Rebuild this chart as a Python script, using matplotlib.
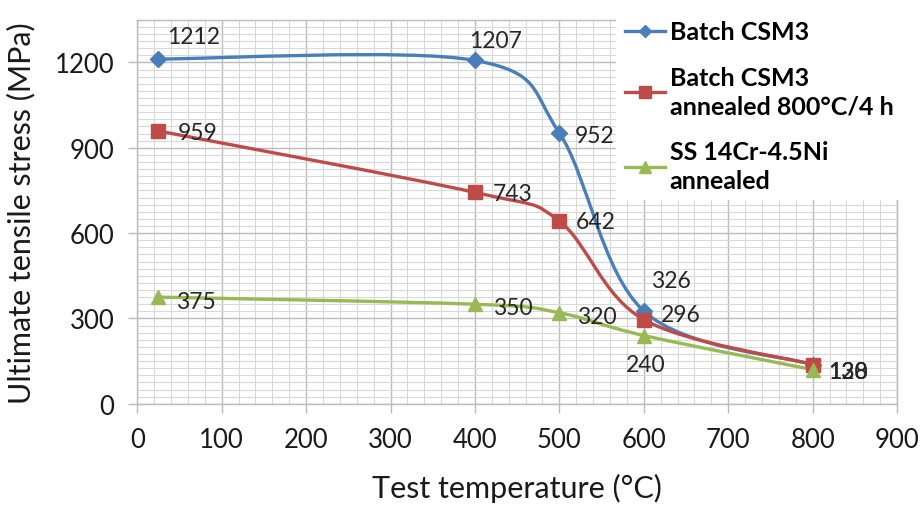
import matplotlib
matplotlib.use("Agg")
import matplotlib.pyplot as plt
from matplotlib.path import Path
from matplotlib.patches import PathPatch
from matplotlib.ticker import MultipleLocator
import numpy as np

# datos
temp = [25, 400, 500, 600, 800]
csm3 = [1212, 1207, 952, 326, 138]
csm3_ann = [959, 743, 642, 296, 138]
ss_ann = [375, 350, 320, 240, 120]
labels = ["Batch CSM3", "Batch CSM3\nannealed 800°C/4 h", "SS 14Cr-4.5Ni\nannealed"]

colors = ["#4A7EBB", "#BE4B48", "#98B954"]
markers = ["D", "s", "^"]
msizes = [8, 10, 10]

FONT = ["Lato", "DejaVu Sans"]
plt.rcParams["font.family"] = FONT


def smooth_path(x, y):
    """Curva suavizada tipo Excel (Bezier cúbica, Catmull-Rom)."""
    pts = np.column_stack([x, y]).astype(float)
    n = len(pts)
    verts = [pts[0]]
    codes = [Path.MOVETO]
    for i in range(n - 1):
        p0 = pts[i - 1] if i > 0 else pts[i]
        p1, p2 = pts[i], pts[i + 1]
        p3 = pts[i + 2] if i + 2 < n else pts[i + 1]
        c1 = p1 + (p2 - p0) / 6
        c2 = p2 - (p3 - p1) / 6
        verts += [c1, c2, p2]
        codes += [Path.CURVE4] * 3
    return Path(verts, codes)


fig = plt.figure(figsize=(9.21, 5.06), dpi=100)
ax = fig.add_axes([0.149, 0.2, 0.825, 0.759])

series = [csm3, csm3_ann, ss_ann]
for ys, c, m, ms, lab in zip(series, colors, markers, msizes, labels):
    ax.add_patch(PathPatch(smooth_path(temp, ys), fill=False, edgecolor=c, lw=2.4, zorder=3))
    ax.plot(temp, ys, linestyle="none", marker=m, color=c, markersize=ms, zorder=4)
    ax.plot([], [], color=c, lw=2.4, marker=m, markersize=ms - 2, label=lab)

# etiquetas de datos (desplazamiento en puntos, borde izquierdo del texto)
offsets = {
    (0, 0): (6, 16), (0, 1): (-4, 14), (0, 2): (11, -2), (0, 3): (5, 22), (0, 4): (11, -5),
    (1, 0): (14, -1), (1, 1): (13, -1), (1, 2): (12, 0), (1, 3): (12, 4), (1, 4): (11, -5),
    (2, 0): (13, -3), (2, 1): (13, -2), (2, 2): (13, -3), (2, 3): (-13, -21), (2, 4): (11, -1),
}
for si, ys in enumerate(series):
    for pi, (xv, yv) in enumerate(zip(temp, ys)):
        dx, dy = offsets[(si, pi)]
        ax.annotate(str(yv), (xv, yv), xytext=(dx, dy), textcoords="offset points",
                    ha="left", va="center", fontsize=16.5, color="#262626", zorder=5)

ax.set_xlim(0, 900)
ax.set_ylim(0, 1350)
ax.set_xticks(range(0, 1000, 100))
ax.set_yticks(range(0, 1201, 300))
ax.xaxis.set_minor_locator(MultipleLocator(20))
ax.yaxis.set_minor_locator(MultipleLocator(25))
ax.grid(which="major", color="#bcbcbc", lw=1.0)
ax.grid(which="minor", color="#d9d9d9", lw=0.8)
ax.set_axisbelow(True)
for s in ax.spines.values():
    s.set_color("#bcbcbc")
    s.set_linewidth(1.0)
ax.tick_params(which="major", direction="out", length=6.5, width=1.0, color="#bcbcbc",
               labelsize=18.5, labelcolor="#1a1a1a", pad=10)
ax.tick_params(which="minor", length=0)

ax.set_xlabel("Test temperature (°C)", fontsize=22, color="#1a1a1a", labelpad=15)
ax.set_ylabel("Ultimate tensile stress (MPa)", fontsize=22, color="#1a1a1a", labelpad=14)

leg = fig.legend(loc="upper left", bbox_to_anchor=(0.655, 1.0), frameon=True,
                 fancybox=False, facecolor="white", framealpha=1.0,
                 prop={"family": FONT, "weight": "bold", "size": 18},
                 handlelength=1.6, handletextpad=0.2, labelspacing=0.9, borderpad=0.35)
leg.get_frame().set_linewidth(0)
for t in leg.get_texts():
    t.set_linespacing(1.3)

fig.savefig("out.png", dpi=100)
